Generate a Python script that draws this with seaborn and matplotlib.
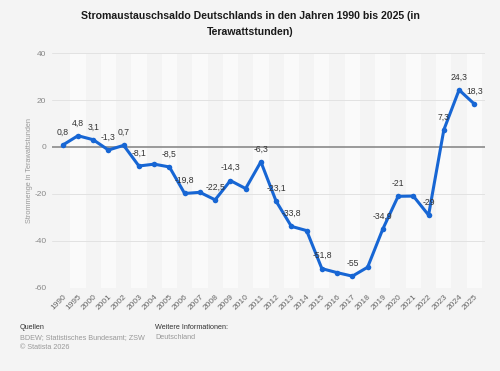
import numpy as np
import pandas as pd
import seaborn as sns
import matplotlib.pyplot as plt

years = ['1990', '1995', '2000', '2001', '2002', '2003', '2004', '2005', '2006', '2007',
         '2008', '2009', '2010', '2011', '2012', '2013', '2014', '2015', '2016', '2017',
         '2018', '2019', '2020', '2021', '2022', '2023', '2024', '2025']
saldo = [0.8, 4.8, 3.1, -1.3, 0.7, -8.1, -7.3, -8.5, -19.8, -19.3,
         -22.5, -14.3, -17.7, -6.3, -23.1, -33.8, -35.6, -51.8, -53.5, -55.0,
         -51.2, -34.9, -21.0, -20.9, -29.0, 7.3, 24.3, 18.3]
# which points carry a value label
show_label = [True, True, True, True, True, True, False, True, True, False,
              True, True, False, True, True, True, False, True, False, True,
              False, True, True, False, True, True, True, True]

df = pd.DataFrame({'pos': np.arange(len(years)), 'year': years, 'saldo': saldo})

sns.set_style('white')
plt.rcParams['font.family'] = ['Liberation Sans', 'DejaVu Sans']

bg = '#f4f4f4'
blue = '#1766d4'

fig = plt.figure(figsize=(5, 3.71), dpi=100, facecolor=bg)
ax = fig.add_axes([0.104, 0.224, 0.866, 0.633])
ax.set_facecolor(bg)

# alternating vertical bands
for i in range(len(years)):
    if i % 2 == 1:
        ax.axvspan(i - 0.5, i + 0.5, color='#fafafa', zorder=0, lw=0)

for yv in [40, 20, -20, -40, -60]:
    ax.axhline(yv, color='#e2e2e2', lw=0.7, zorder=1)
ax.axhline(0, color='#8a8a8a', lw=1.2, zorder=2)

sns.lineplot(data=df, x='pos', y='saldo', color=blue, lw=2.2, marker='o',
             markersize=4, markeredgewidth=0, ax=ax, zorder=3)

for p, v, s in zip(df['pos'], df['saldo'], show_label):
    if not s:
        continue
    txt = ('%g' % v).replace('.', ',')
    ax.annotate(txt, (p, v), xytext=(0, 6), textcoords='offset points',
                ha='center', va='bottom', fontsize=6.2, color='#333333', zorder=4)

ax.set_xlim(-0.7, len(years) - 0.3)
ax.set_ylim(-60, 40)
ax.set_xticks(df['pos'])
ax.set_xticklabels(years, rotation=45, ha='right', rotation_mode='anchor',
                   fontsize=6, color='#666666')
ax.set_yticks([-60, -40, -20, 0, 20, 40])
ax.set_yticklabels(['-60', '-40', '-20', '0', '20', '40'], fontsize=6, color='#888888')
ax.tick_params(axis='both', length=0, pad=4)
ax.set_xlabel('')
ax.set_ylabel('Strommenge in Terawattstunden', fontsize=5.3, color='#999999', labelpad=1)
for sp in ax.spines.values():
    sp.set_visible(False)

fig.text(0.5, 0.97, 'Stromaustauschsaldo Deutschlands in den Jahren 1990 bis 2025 (in\nTerawattstunden)',
         ha='center', va='top', fontsize=7.6, fontweight='bold', color='#1a1a1a', linespacing=1.7)

fig.text(0.04, 0.113, 'Quellen', fontsize=5.2, color='#333333')
fig.text(0.04, 0.085, 'BDEW; Statistisches Bundesamt; ZSW', fontsize=5.2, color='#999999')
fig.text(0.04, 0.058, '\u00a9 Statista 2026', fontsize=5.2, color='#999999')
fig.text(0.31, 0.113, 'Weitere Informationen:', fontsize=5.2, color='#333333')
fig.text(0.31, 0.085, 'Deutschland', fontsize=5.2, color='#999999')

fig.savefig('out.png', dpi=100, facecolor=bg)
